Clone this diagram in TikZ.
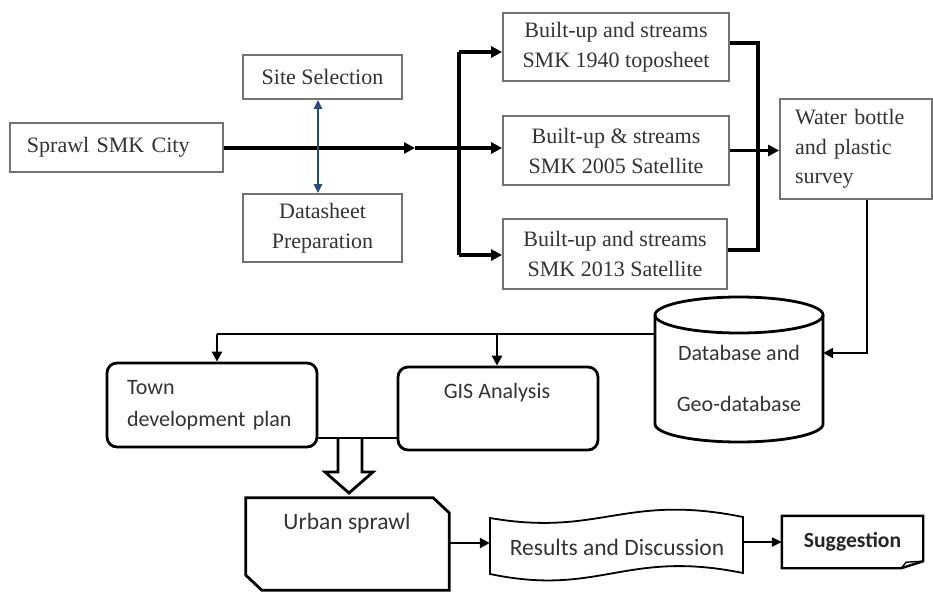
\documentclass[tikz,border=0pt]{standalone}
\usepackage{fontspec}
\setmainfont{Liberation Serif}
\newfontfamily\carl{Carlito}
\usetikzlibrary{arrows.meta}
\definecolor{dblue}{RGB}{40,75,120}
\begin{document}
\begin{tikzpicture}[x=1pt,y=-1pt,
  topbox/.style={draw=black!55, line width=1.8pt, text=black!80, font=\fontsize{22}{30}\selectfont, inner sep=0pt, align=center},
  thickline/.style={line width=3.4pt, draw=black},
  conn/.style={thickline, -{Triangle[length=11pt,width=11pt]}},
  bline/.style={line width=2.8pt, draw=black},
  bconn/.style={bline, -{Triangle[length=10pt,width=10pt]}},
  sans/.style={font=\carl\fontsize{22}{32}\selectfont, text=black!80, inner sep=0pt},
  rbox/.style={draw=black, line width=2.8pt, rounded corners=10pt, inner sep=0pt},
  ghost/.style={inner sep=0pt, minimum width=#1}
]
\useasboundingbox (0,0) rectangle (933,592);

% ---------- top part ----------
\node[topbox, text width=179pt, inner xsep=17pt, align=left, minimum height=49pt] (city) at (116.5,147.5) {Sprawl SMK City};
\node[topbox, minimum width=159pt, minimum height=44pt] (site) at (322.5,77) {Site Selection};
\node[topbox, minimum width=159pt, minimum height=68pt] (data) at (322.5,228) {Datasheet\\Preparation};
\node[topbox, minimum width=226pt, minimum height=68pt] (b1) at (616,47) {Built-up and streams\\SMK 1940 toposheet};
\node[topbox, minimum width=226pt, minimum height=69pt] (b2) at (616,150.5) {Built-up \& streams\\SMK 2005 Satellite};
\node[topbox, minimum width=224pt, minimum height=70pt] (b3) at (615,254) {Built-up and streams\\SMK 2013 Satellite};
\node[topbox, text width=122pt, inner xsep=15pt, align=left, minimum height=100pt, font=\fontsize{22}{29.5}\selectfont] (water) at (856,149) {Water bottle\\and plastic\\survey};

\coordinate (split) at (459,148);
\coordinate (mid) at (415,148);
\coordinate (s1) at (459,52);
\coordinate (s3) at (459,255);
\coordinate (j1) at (758,43);
\coordinate (j3) at (758,250);
\coordinate (bx) at (318,148);

\draw[conn] (city.east |- split) -- (mid);
\draw[thickline] (mid) -- (split);
\draw[thickline] (s1) -- (s3);
\draw[conn] (s1) -- (s1 -| b1.west);
\draw[conn] (split) -- (split -| b2.west);
\draw[conn] (s3) -- (s3 -| b3.west);
\draw[thickline] (j1 -| b1.east) -- (j1) -- (j3) -- (j3 -| b3.east);
\draw[conn] (b2.east) -- (b2.east -| water.west);
\draw[dblue, line width=2.2pt, {Triangle[length=9pt,width=8pt]}-{Triangle[length=9pt,width=8pt]}] (site.south -| bx) -- (data.north -| bx);

% ---------- bottom part ----------
\node[ghost=168pt, minimum height=145pt] (db) at (739,369.5) {};
\draw[bline] (655,315) -- (655,424) arc[start angle=180, end angle=360, x radius=84pt, y radius=18pt] -- (823,315);
\draw[bline] (739,315) ellipse [x radius=84pt, y radius=18pt];
\node[sans, align=center, font=\carl\fontsize{22}{51}\selectfont] (dbtext) at (739,378) {Database and\\Geo-database};

\node[rbox, sans, text width=170pt, inner xsep=20pt, align=left, minimum height=84pt] (town) at (212,405) {Town\\development plan};
\node[rbox, minimum width=200pt, minimum height=83pt] (gis) at (498,408.5) {};
\node[sans] (gistext) at (497,393) {GIS Analysis};

\coordinate (wd) at (867,353);
\coordinate (dl) at (217,334);
\coordinate (dg) at (497,334);
\draw[bconn] (wd |- water.south) -- (wd) -- (wd -| db.east);
\draw[bline] (db.west |- dl) -- (dl);
\draw[bconn] (dl) -- (dl |- town.north);
\draw[bconn] (dg) -- (dg |- gis.north);

% block arrow
\draw[bline, line join=miter] (338,438) -- (338,472) -- (325,472) -- (349,493) -- (373,472) -- (362,472) -- (362,438);
\coordinate (bj) at (350,438);
\draw[bline] (town.east |- bj) -- (gis.west |- bj);

% urban sprawl
\node[ghost=203pt, minimum height=92pt] (urban) at (347.5,544) {};
\draw[bline, line join=miter] (urban.north west) -- ([xshift=-16pt]urban.north east) -- ([yshift=-15pt]urban.north east) -- (urban.south east) -- ([xshift=16pt]urban.south west) -- ([yshift=15pt]urban.south west) -- cycle;
\node[sans, font=\carl\fontsize{23.5}{30}\selectfont] (urbantext) at (347,523) {Urban sprawl};

% results and discussion
\node[ghost=253pt, minimum height=56pt] (res) at (616.5,545) {};
\draw[line width=1.8pt] (490,518) .. controls (600,537) and (625,493) .. (743,517) -- (743,573) .. controls (625,549) and (600,597) .. (490,574) -- cycle;
\node[sans, font=\carl\fontsize{23.5}{30}\selectfont] (restext) at (617,547) {Results and Discussion};

% suggestion
\node[inner sep=0pt, minimum width=141pt, minimum height=52pt, font=\carl\bfseries\fontsize{21.6}{26}\selectfont, text=black!85] (sug) at (852.5,542) {Suggestion};
\draw[line width=2.4pt, line join=miter] (sug.north west) -- (sug.north east) -- ([yshift=7pt]sug.south east) -- ([xshift=-22pt]sug.south east) -- (sug.south west) -- cycle;
\draw[line width=1.4pt] ([yshift=7pt]sug.south east) -- ([xshift=-17pt,yshift=6pt]sug.south east) -- ([xshift=-22pt]sug.south east);

\coordinate (ur) at (465,543);
\coordinate (sg) at (762,542);
\draw[bconn] (urban.east |- ur) -- (res.west |- ur);
\draw[line width=2.2pt, -{Triangle[length=10pt,width=9pt]}] (res.east |- sg) -- (sug.west |- sg);
\end{tikzpicture}
\end{document}
